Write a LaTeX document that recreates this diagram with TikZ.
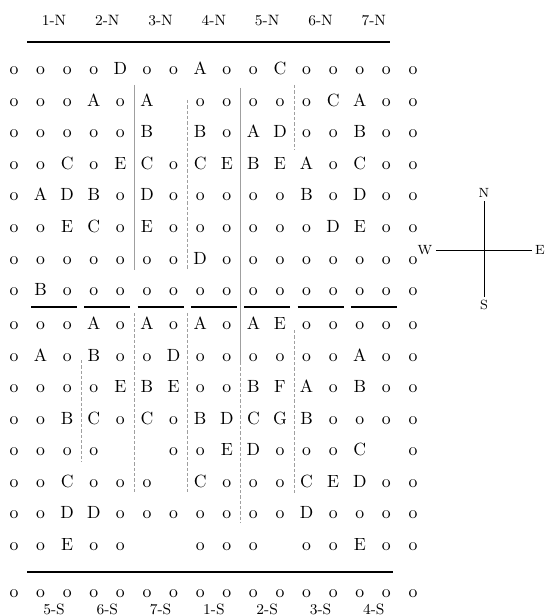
\documentclass[tikz,border=0pt]{standalone}
\usepackage{tikz}
\usetikzlibrary{positioning}

\tikzset{
  cell/.style={anchor=base, inner sep=0pt, font=\fontsize{10.6}{12}\selectfont},
  colhead/.style={anchor=base, inner sep=0pt, font=\small},
  rule/.style={gray!75, line width=0.35pt},
  dotrule/.style={rule, dash pattern=on 2pt off 1.2pt},
  bar/.style={line width=1.1pt},
  compass/.style={inner sep=2pt, font=\footnotesize},
}

\begin{document}
\begin{tikzpicture}[x=0.6pt,y=-0.6pt]
  \useasboundingbox (0,0) rectangle (546,616);
  % headings, north and south
  \foreach \t [count=\k] in {1-N,2-N,3-N,4-N,5-N,6-N,7-N}
    \node[colhead] (top\k) at ({54+53.3*(\k-1)},26) {\t};
  \foreach \t [count=\k] in {5-S,6-S,7-S,1-S,2-S,3-S,4-S}
    \node[colhead] (bot\k) at ({54+53.3*(\k-1)},614) {\t};
  \draw[bar] (27,42) -- (390,42);
  \draw[bar] (27,572) -- (393,572);
  \foreach \k in {1,...,7}
    \draw[bar] ({31+53.3*(\k-1)},307) -- ({77+53.3*(\k-1)},307);
  % the grid, "-" is an empty place
  \foreach \row [count=\r] in {
      {o,o,o,o,D,o,o,A,o,o,C,o,o,o,o,o},
      {o,o,o,A,o,A,-,o,o,o,o,o,C,A,o,o},
      {o,o,o,o,o,B,-,B,o,A,D,o,o,B,o,o},
      {o,o,C,o,E,C,o,C,E,B,E,A,o,C,o,o},
      {o,A,D,B,o,D,o,o,o,o,o,B,o,D,o,o},
      {o,o,E,C,o,E,o,o,o,o,o,o,D,E,o,o},
      {o,o,o,o,o,o,o,D,o,o,o,o,o,o,o,o},
      {o,B,o,o,o,o,o,o,o,o,o,o,o,o,o,o},
      {o,o,o,A,o,A,o,A,o,A,E,o,o,o,o,o},
      {o,A,o,B,o,o,D,o,o,o,o,o,o,A,o,o},
      {o,o,o,o,E,B,E,o,o,B,F,A,o,B,o,o},
      {o,o,B,C,o,C,o,B,D,C,G,B,o,o,o,o},
      {o,o,o,o,-,-,o,o,E,D,o,o,o,C,-,o},
      {o,o,C,o,o,o,-,C,o,o,o,C,E,D,o,o},
      {o,o,D,D,o,o,o,o,o,o,o,D,o,o,o,o},
      {o,o,E,o,o,-,-,o,o,o,-,o,o,E,o,o},
      {o,o,o,o,o,o,o,o,o,o,o,o,o,o,o,o}} {
    \pgfmathsetmacro\yb{\r<9 ? 75+31.5*(\r-1) : (\r<17 ? 329.5+31.5*(\r-9) : 597)}
    \foreach \t [count=\c] in \row {
      \if-\t\else
        \node[cell] (g\r-\c) at ({14+26.6*(\c-1)},\yb) {\t};
      \fi
    }
  }
  % dividing rules
  \draw[rule] (134,85) -- (134,270);
  \draw[dotrule] (187,100) -- (187,270);
  \draw[rule] (240,88) -- (240,362);
  \draw[dotrule] (240,362) -- (240,523);
  \draw[dotrule] (294,85) -- (294,150);
  \draw[dotrule] (81,360) -- (81,462);
  \draw[dotrule] (134,313) -- (134,493);
  \draw[dotrule] (187,313) -- (187,493);
  \draw[dotrule] (294,330) -- (294,493);
  % compass
  \node[compass] (cN) at (484,193) {N};
  \node[compass] (cS) at (484,305) {S};
  \node[compass] (cW) at (425,250) {W};
  \node[compass] (cE) at (540,250) {E};
  \draw[line width=0.4pt] (cN) -- (cS);
  \draw[line width=0.4pt] (cW) -- (cE);
\end{tikzpicture}
\end{document}
